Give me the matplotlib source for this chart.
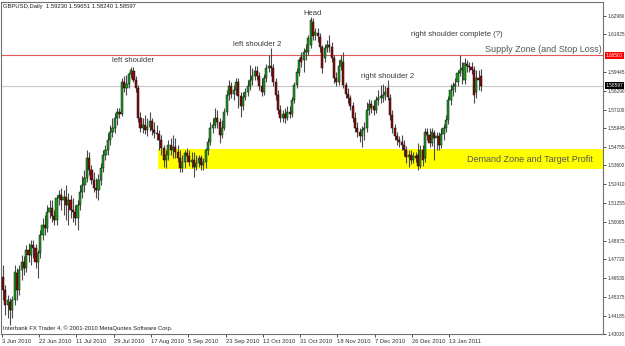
import matplotlib
matplotlib.use("Agg")
import matplotlib.pyplot as plt
from matplotlib.patches import Rectangle

# GBPUSD daily candles, 3 Jun 2010 -> late Jan 2011
OPEN = [
    1.4660, 1.4579, 1.4485, 1.4504, 1.4453, 1.4516, 1.4685, 1.4579, 1.4704, 1.4754,
    1.4717, 1.4830, 1.4798, 1.4861, 1.4842, 1.4754, 1.4811, 1.4924, 1.4986, 1.4967,
    1.5068, 1.5093, 1.5043, 1.5018, 1.5155, 1.5174, 1.5143, 1.5162, 1.5112, 1.5143,
    1.5080, 1.5068, 1.5030, 1.5112, 1.5193, 1.5237, 1.5281, 1.5406, 1.5331, 1.5268,
    1.5218, 1.5206, 1.5268, 1.5344, 1.5425, 1.5457, 1.5519, 1.5569, 1.5594, 1.5657,
    1.5695, 1.5682, 1.5883, 1.5845, 1.5870, 1.5933, 1.5952, 1.5895, 1.5845, 1.5657,
    1.5594, 1.5613, 1.5582, 1.5601, 1.5638, 1.5582, 1.5563, 1.5557, 1.5519, 1.5469,
    1.5394, 1.5425, 1.5488, 1.5457, 1.5475, 1.5444, 1.5406, 1.5344, 1.5381, 1.5438,
    1.5419, 1.5381, 1.5394, 1.5350, 1.5375, 1.5406, 1.5362, 1.5381, 1.5457, 1.5507,
    1.5594, 1.5613, 1.5657, 1.5632, 1.5551, 1.5594, 1.5695, 1.5801, 1.5858, 1.5808,
    1.5833, 1.5883, 1.5795, 1.5732, 1.5789, 1.5820, 1.5858, 1.5895, 1.5920, 1.5952,
    1.5920, 1.5858, 1.5820, 1.5908, 1.5971, 1.5983, 1.5971, 1.5883, 1.5801, 1.5707,
    1.5657, 1.5682, 1.5657, 1.5695, 1.5682, 1.5770, 1.5864, 1.5939, 1.6040, 1.6021,
    1.6071, 1.6071, 1.6115, 1.6259, 1.6178, 1.6190, 1.6165, 1.6102, 1.6033, 1.6096,
    1.6115, 1.6102, 1.6033, 1.5908, 1.5883, 1.5983, 1.6008, 1.5864, 1.5808, 1.5782,
    1.5732, 1.5657, 1.5594, 1.5569, 1.5544, 1.5582, 1.5594, 1.5707, 1.5745, 1.5732,
    1.5707, 1.5770, 1.5782, 1.5782, 1.5801, 1.5845, 1.5782, 1.5676, 1.5594, 1.5544,
    1.5519, 1.5507, 1.5488, 1.5457, 1.5413, 1.5425, 1.5394, 1.5419, 1.5425, 1.5356,
    1.5457, 1.5406, 1.5569, 1.5551, 1.5500, 1.5563, 1.5532, 1.5544, 1.5488, 1.5557,
    1.5594, 1.5645, 1.5770, 1.5833, 1.5858, 1.5883, 1.5939, 1.5958, 1.5895, 1.5996,
    1.5983, 1.5977, 1.5958, 1.5820, 1.5908, 1.59230,
]
HIGH = [
    1.4735, 1.4610, 1.4547, 1.4529, 1.4541, 1.4735, 1.4717, 1.4735, 1.4798, 1.4792,
    1.4861, 1.4873, 1.4892, 1.4892, 1.4867, 1.4830, 1.4955, 1.5030, 1.5049, 1.5112,
    1.5143, 1.5143, 1.5080, 1.5174, 1.5206, 1.5218, 1.5206, 1.5237, 1.5187, 1.5174,
    1.5155, 1.5112, 1.5143, 1.5237, 1.5293, 1.5331, 1.5457, 1.5444, 1.5362, 1.5319,
    1.5281, 1.5306, 1.5375, 1.5457, 1.5488, 1.5563, 1.5613, 1.5657, 1.5688, 1.5720,
    1.5720, 1.5908, 1.5920, 1.5927, 1.5946, 1.5977, 1.5977, 1.5920, 1.5864, 1.5695,
    1.5657, 1.5676, 1.5657, 1.5695, 1.5657, 1.5632, 1.5613, 1.5582, 1.5551, 1.5488,
    1.5457, 1.5519, 1.5532, 1.5551, 1.5532, 1.5488, 1.5457, 1.5425, 1.5457, 1.5469,
    1.5457, 1.5444, 1.5444, 1.5425, 1.5425, 1.5425, 1.5406, 1.5469, 1.5532, 1.5632,
    1.5657, 1.5720, 1.5707, 1.5657, 1.5645, 1.5720, 1.5833, 1.5895, 1.5883, 1.5864,
    1.5908, 1.5908, 1.5820, 1.5820, 1.5845, 1.5895, 1.5989, 1.5971, 1.5983, 1.5983,
    1.5946, 1.5908, 1.5933, 1.5996, 1.6052, 1.6096, 1.5996, 1.5908, 1.5833, 1.5739,
    1.5707, 1.5720, 1.5732, 1.5732, 1.5789, 1.5883, 1.5971, 1.6033, 1.6071, 1.6096,
    1.6121, 1.6178, 1.6290, 1.6284, 1.6221, 1.6221, 1.6190, 1.6115, 1.6121, 1.6146,
    1.6178, 1.6134, 1.6052, 1.5946, 1.6021, 1.6052, 1.6071, 1.5883, 1.5845, 1.5801,
    1.5757, 1.5695, 1.5632, 1.5594, 1.5607, 1.5632, 1.5757, 1.5776, 1.5770, 1.5770,
    1.5795, 1.5833, 1.5864, 1.5870, 1.5858, 1.5895, 1.5808, 1.5707, 1.5620, 1.5569,
    1.5544, 1.5551, 1.5519, 1.5482, 1.5457, 1.5457, 1.5444, 1.5444, 1.5500, 1.5488,
    1.5488, 1.5594, 1.5594, 1.5594, 1.5594, 1.5582, 1.5569, 1.5569, 1.5594, 1.5620,
    1.5676, 1.5795, 1.5870, 1.5883, 1.5908, 1.5958, 1.6052, 1.6008, 1.6033, 1.6021,
    1.6008, 1.6008, 1.5983, 1.5958, 1.5958, 1.59651,
]
LOW = [
    1.4516, 1.4422, 1.4403, 1.4359, 1.4403, 1.4485, 1.4516, 1.4547, 1.4641, 1.4673,
    1.4692, 1.4754, 1.4735, 1.4779, 1.4717, 1.4654, 1.4779, 1.4892, 1.4924, 1.4942,
    1.5030, 1.5005, 1.4986, 1.4986, 1.5112, 1.5080, 1.5049, 1.5018, 1.4986, 1.5030,
    1.5005, 1.4986, 1.4955, 1.5080, 1.5155, 1.5193, 1.5256, 1.5300, 1.5243, 1.5193,
    1.5155, 1.5143, 1.5237, 1.5319, 1.5394, 1.5425, 1.5488, 1.5538, 1.5563, 1.5613,
    1.5657, 1.5670, 1.5820, 1.5801, 1.5845, 1.5908, 1.5883, 1.5820, 1.5632, 1.5569,
    1.5563, 1.5557, 1.5544, 1.5576, 1.5551, 1.5532, 1.5519, 1.5457, 1.5425, 1.5350,
    1.5344, 1.5394, 1.5425, 1.5406, 1.5406, 1.5381, 1.5319, 1.5319, 1.5344, 1.5381,
    1.5356, 1.5344, 1.5287, 1.5331, 1.5350, 1.5331, 1.5331, 1.5344, 1.5425, 1.5488,
    1.5563, 1.5594, 1.5594, 1.5500, 1.5532, 1.5582, 1.5676, 1.5770, 1.5782, 1.5770,
    1.5801, 1.5720, 1.5663, 1.5707, 1.5770, 1.5795, 1.5833, 1.5864, 1.5895, 1.5895,
    1.5833, 1.5795, 1.5801, 1.5883, 1.5946, 1.5920, 1.5858, 1.5770, 1.5682, 1.5632,
    1.5632, 1.5626, 1.5645, 1.5657, 1.5663, 1.5751, 1.5845, 1.5920, 1.5977, 1.5946,
    1.6021, 1.6052, 1.6096, 1.6146, 1.6146, 1.6134, 1.6071, 1.5939, 1.6008, 1.6071,
    1.6071, 1.6008, 1.5877, 1.5858, 1.5864, 1.5958, 1.5845, 1.5782, 1.5751, 1.5707,
    1.5632, 1.5569, 1.5538, 1.5507, 1.5475, 1.5519, 1.5569, 1.5676, 1.5688, 1.5676,
    1.5688, 1.5739, 1.5751, 1.5757, 1.5770, 1.5770, 1.5645, 1.5563, 1.5519, 1.5488,
    1.5475, 1.5457, 1.5419, 1.5375, 1.5350, 1.5369, 1.5375, 1.5381, 1.5331, 1.5344,
    1.5356, 1.5381, 1.5519, 1.5475, 1.5482, 1.5394, 1.5457, 1.5457, 1.5469, 1.5519,
    1.5569, 1.5620, 1.5739, 1.5795, 1.5820, 1.5858, 1.5920, 1.5870, 1.5870, 1.5946,
    1.5946, 1.5933, 1.5751, 1.5782, 1.5833, 1.58240,
]
CLOSE = [
    1.4579, 1.4485, 1.4516, 1.4453, 1.4516, 1.4692, 1.4579, 1.4704, 1.4754, 1.4717,
    1.4830, 1.4798, 1.4861, 1.4842, 1.4754, 1.4811, 1.4924, 1.4986, 1.4967, 1.5068,
    1.5093, 1.5043, 1.5018, 1.5155, 1.5174, 1.5143, 1.5162, 1.5112, 1.5143, 1.5080,
    1.5068, 1.5030, 1.5112, 1.5193, 1.5237, 1.5281, 1.5406, 1.5331, 1.5268, 1.5218,
    1.5206, 1.5268, 1.5344, 1.5425, 1.5457, 1.5519, 1.5569, 1.5594, 1.5657, 1.5695,
    1.5682, 1.5883, 1.5845, 1.5870, 1.5933, 1.5958, 1.5895, 1.5845, 1.5657, 1.5594,
    1.5613, 1.5582, 1.5601, 1.5638, 1.5582, 1.5563, 1.5557, 1.5519, 1.5469, 1.5394,
    1.5425, 1.5488, 1.5457, 1.5475, 1.5444, 1.5406, 1.5344, 1.5381, 1.5438, 1.5419,
    1.5381, 1.5394, 1.5350, 1.5375, 1.5406, 1.5362, 1.5381, 1.5457, 1.5507, 1.5594,
    1.5613, 1.5657, 1.5632, 1.5551, 1.5594, 1.5695, 1.5801, 1.5858, 1.5808, 1.5833,
    1.5883, 1.5795, 1.5732, 1.5789, 1.5820, 1.5858, 1.5895, 1.5920, 1.5952, 1.5920,
    1.5858, 1.5820, 1.5908, 1.5971, 1.5983, 1.5971, 1.5883, 1.5801, 1.5707, 1.5657,
    1.5682, 1.5657, 1.5695, 1.5682, 1.5770, 1.5864, 1.5946, 1.6021, 1.6008, 1.6071,
    1.6084, 1.6159, 1.6272, 1.6171, 1.6196, 1.6171, 1.6102, 1.5971, 1.6096, 1.6115,
    1.6102, 1.6033, 1.5908, 1.5883, 1.5983, 1.6021, 1.5864, 1.5808, 1.5782, 1.5732,
    1.5657, 1.5594, 1.5569, 1.5544, 1.5582, 1.5594, 1.5707, 1.5745, 1.5720, 1.5707,
    1.5770, 1.5782, 1.5795, 1.5801, 1.5820, 1.5789, 1.5676, 1.5594, 1.5544, 1.5519,
    1.5507, 1.5488, 1.5457, 1.5413, 1.5425, 1.5394, 1.5419, 1.5406, 1.5356, 1.5457,
    1.5394, 1.5569, 1.5551, 1.5500, 1.5569, 1.5532, 1.5544, 1.5488, 1.5557, 1.5594,
    1.5645, 1.5770, 1.5833, 1.5858, 1.5870, 1.5939, 1.5958, 1.5971, 1.6002, 1.5983,
    1.5977, 1.5958, 1.5801, 1.5908, 1.5895, 1.58597,
]

DATE_LABELS = ["3 Jun 2010", "22 Jun 2010", "11 Jul 2010", "29 Jul 2010",
               "17 Aug 2010", "5 Sep 2010", "23 Sep 2010", "12 Oct 2010",
               "31 Oct 2010", "18 Nov 2010", "7 Dec 2010", "26 Dec 2010",
               "13 Jan 2011"]
DATE_BARS = [0, 16, 32, 48, 64, 80, 96, 112, 128, 144, 160, 176, 192]

PRICE_TICKS = [1.62980, 1.61825, 1.59445, 1.58290, 1.57100, 1.55945, 1.54755,
               1.53600, 1.52410, 1.51255, 1.50065, 1.48875, 1.47720, 1.46530,
               1.45375, 1.44185, 1.43030]

SUPPLY_LEVEL = 1.60500
BID_LEVEL = 1.58597
DEMAND_LOW, DEMAND_HIGH = 1.5337, 1.5460
DEMAND_START_BAR = 66.7

PATTERN_LABELS = [
    ("left shoulder", 55.6, 1.6015),
    ("left shoulder 2", 109.0, 1.6121),
    ("Head", 133.0, 1.6314),
    ("right shoulder 2", 165.0, 1.5916),
    ("right shoulder complete (?)", 194.6, 1.6178),
]

HEADER = "GBPUSD,Daily  1.59230 1.59651 1.58240 1.58597"
FOOTER = "Interbank FX Trader 4, \u00a9 2001-2010 MetaQuotes Software Corp."

plt.rcParams["font.family"] = ["Liberation Sans", "DejaVu Sans"]

W, H = 625, 346
fig = plt.figure(figsize=(W / 100, H / 100), dpi=100, facecolor="white")
ax = fig.add_axes([1.5 / W, 12 / H, 601.5 / W, 332.5 / H])
ax.set_facecolor("white")

n = len(CLOSE)
xs = list(range(n))
ax.set_xlim(-0.6, 257.4)
ax.set_ylim(1.4303, 1.6388)

# demand zone + horizontal levels
ax.add_patch(Rectangle((DEMAND_START_BAR, DEMAND_LOW), 300, DEMAND_HIGH - DEMAND_LOW,
                       facecolor="#ffff00", edgecolor="none", zorder=0))
ax.axhline(SUPPLY_LEVEL, color="#e05a5a", lw=0.8, zorder=1)
ax.axhline(BID_LEVEL, color="#c8c8c8", lw=0.8, zorder=1)

# candles
ax.vlines(xs, LOW, HIGH, color="#4a4a4a", lw=0.8, zorder=2)
for i in xs:
    o, c = OPEN[i], CLOSE[i]
    up = c >= o
    bottom = min(o, c)
    height = max(abs(c - o), 0.0003)
    ax.bar(i, height, bottom=bottom, width=0.9,
           color="#1c9a1c" if up else "#8b0a0a",
           edgecolor="#151515", linewidth=0.35, zorder=3)

# annotations
for text, bx, py in PATTERN_LABELS:
    ax.text(bx, py, text, fontsize=5.5, color="#3a3a3a", ha="center", va="center", zorder=4)
ax.text(257.0, 1.6084, "Supply Zone (and Stop Loss)", fontsize=6.5, color="#555555",
        ha="right", va="center", zorder=4)
ax.text(225.9, 1.5398, "Demand Zone and Target Profit", fontsize=6.5, color="#555555",
        ha="center", va="center", zorder=4)

ax.text(0.003, 0.992, HEADER, transform=ax.transAxes, fontsize=4.2, color="#202020",
        ha="left", va="top")
ax.text(0.003, 0.008, FOOTER, transform=ax.transAxes, fontsize=4.2, color="#202020",
        ha="left", va="bottom")

# axes styling (MT4 look)
for s in ax.spines.values():
    s.set_color("#707070")
    s.set_linewidth(0.8)

TICK_FS = 3.4
ax.yaxis.tick_right()
ax.set_yticks(PRICE_TICKS)
ax.set_yticklabels([f"{p:.5f}" for p in PRICE_TICKS])
ax.tick_params(axis="y", direction="out", length=2, width=0.6, colors="#303030",
               labelsize=TICK_FS, pad=1.0)

ax.set_xticks([b - 0.5 for b in DATE_BARS])
ax.set_xticklabels(DATE_LABELS, ha="left")
ax.tick_params(axis="x", direction="out", length=2, width=0.6, colors="#303030",
               labelsize=4.2, pad=1.5)

# price boxes on the right scale
ytr = ax.get_yaxis_transform()
ax.text(1.0045, SUPPLY_LEVEL, f"{SUPPLY_LEVEL:.5f}", transform=ytr, fontsize=TICK_FS,
        color="white", ha="left", va="center", zorder=6, clip_on=False,
        bbox=dict(boxstyle="square,pad=0.2", facecolor="#ff0000", edgecolor="none"))
ax.text(1.0045, BID_LEVEL, f"{BID_LEVEL:.5f}", transform=ytr, fontsize=TICK_FS,
        color="white", ha="left", va="center", zorder=6, clip_on=False,
        bbox=dict(boxstyle="square,pad=0.2", facecolor="#000000", edgecolor="none"))

fig.savefig("out.png", dpi=100, facecolor="white")
